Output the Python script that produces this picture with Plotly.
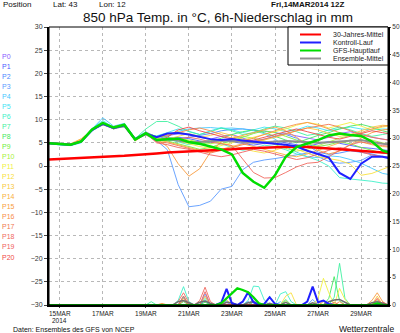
import pandas as pd
import plotly.graph_objects as go

# ---------------- data ----------------
t_temp = pd.date_range("2014-03-14 12:00", periods=33, freq="12h")
t_prec = pd.date_range("2014-03-14 12:00", periods=65, freq="6h")

member_names = ["P%d" % i for i in range(21)]
member_colors = ["#8a5cff", "#4a5cff", "#4a86ff", "#5a9aff", "#46c8ff", "#40e4f4", "#40f0c8",
                 "#40f0a0", "#44e860", "#70ee40", "#a8f040", "#f0f040", "#f8e040", "#f8c840",
                 "#f8b040", "#f89c40", "#f88c48", "#f07850", "#f06a60", "#f06060", "#f04848"]

P0 = [4.9, 4.7, 4.5, 5.2, 7.6, 9.0, 8.0, 8.6, 5.9, 6.8, 5.8, 6.5, 7.0, 6.8, 6.2, 5.8, 6.4, 6.8, 6.0, 5.4, 5.8, 6.4, 7.0, 6.5, 6.0, 5.6, 6.2, 7.0, 7.4, 6.8, 6.2, 5.8, 5.5]
P1 = [5.0, 4.9, 4.6, 5.4, 7.9, 9.3, 8.3, 8.9, 5.6, 7.2, 5.5, 6.0, 6.2, 5.9, 5.4, 5.0, 5.6, 5.2, 4.8, 4.5, 4.9, 5.4, 5.0, 4.6, 4.2, 4.8, 5.3, 4.9, 4.4, 4.0, 3.8, 3.5, 3.2]
P2 = [4.9, 4.8, 4.7, 5.2, 7.7, 9.4, 8.1, 8.7, 5.5, 7.1, 5.9, 5.4, 5.8, 6.1, 6.6, 7.0, 7.6, 7.9, 8.0, 7.8, 7.5, 7.2, 6.8, 6.0, 4.5, 3.0, 2.5, 2.8, 3.3, 3.0, 2.6, 2.0, 1.8]
P3 = [4.8, 4.6, 4.5, 5.1, 7.5, 9.1, 8.4, 8.9, 5.8, 7.0, 5.5, 3.5, -4.0, -8.8, -8.5, -7.6, -5.0, -4.4, -0.8, 0.8, 1.3, 1.6, 2.0, 2.4, 2.8, 2.0, 1.0, 0.6, 0.8, 1.2, 2.4, 2.1, 1.6]
P4 = [4.9, 4.5, 4.4, 5.0, 8.0, 10.4, 8.6, 9.2, 6.0, 7.4, 6.2, 6.4, 7.5, 8.0, 8.2, 8.3, 8.1, 8.2, 8.0, 7.6, 7.0, 5.8, 4.2, 3.0, 2.0, 1.8, 2.2, 2.0, 1.4, 0.6, -0.5, -1.6, -2.0]
P5 = [5.0, 4.8, 4.6, 5.5, 8.1, 9.8, 8.3, 8.5, 5.6, 6.8, 6.5, 7.2, 8.0, 7.5, 6.8, 7.6, 8.3, 7.8, 7.2, 7.8, 8.4, 8.0, 7.4, 7.8, 8.6, 8.2, 7.6, 8.0, 8.4, 8.0, 7.8, 8.0, 7.9]
P6 = [4.9, 4.9, 4.7, 5.3, 7.6, 9.0, 8.1, 8.8, 5.8, 7.3, 6.0, 5.8, 5.2, 4.6, 5.0, 5.6, 4.8, 4.0, 3.4, 3.8, 4.5, 4.2, 3.5, 2.6, 2.0, 1.2, 0.0, -2.5, -2.8, -3.0, -3.3, -3.7, -3.8]
P7 = [4.9, 4.8, 4.6, 5.4, 7.9, 9.3, 8.3, 8.7, 5.9, 8.0, 9.6, 9.6, 8.6, 7.4, 6.8, 7.4, 8.2, 7.6, 6.8, 7.2, 8.0, 8.6, 8.2, 7.4, 6.6, 7.0, 7.8, 8.4, 7.8, 7.0, 6.4, 6.8, 7.2]
P8 = [5.0, 4.9, 4.8, 5.2, 7.8, 9.1, 8.0, 8.9, 5.7, 7.1, 6.4, 6.2, 5.6, 5.0, 4.6, 5.2, 6.0, 6.8, 7.4, 7.8, 7.2, 6.4, 5.6, 5.0, 5.8, 6.6, 7.2, 8.0, 8.6, 9.0, 8.4, 7.6, 7.0]
P9 = [4.9, 4.7, 4.5, 5.3, 7.7, 9.2, 8.2, 8.8, 5.6, 6.9, 5.6, 5.4, 4.8, 4.2, 3.6, 4.0, 4.8, 5.4, 6.2, 7.0, 7.6, 7.2, 6.4, 5.6, 4.8, 4.2, 4.6, 5.2, 4.8, 4.0, 3.4, 2.8, 2.4]
P10 = [4.9, 4.8, 4.6, 5.2, 7.8, 9.0, 8.4, 8.6, 5.5, 7.0, 5.3, 5.6, 6.0, 5.6, 5.2, 4.8, 5.2, 5.8, 6.4, 6.0, 5.4, 4.6, 3.8, 3.2, 3.6, 4.4, 5.2, 6.0, 6.6, 6.2, 5.6, 5.0, 4.6]
P11 = [4.9, 4.8, 4.7, 5.6, 7.9, 9.1, 8.1, 8.9, 5.8, 6.7, 5.7, 6.0, 5.4, 4.8, 4.2, 3.8, 4.4, 5.0, 5.6, 6.2, 6.8, 7.4, 8.0, 8.8, 9.4, 9.0, 8.2, 8.8, 9.4, 8.6, 7.8, 8.4, 8.8]
P12 = [5.0, 4.8, 4.6, 5.3, 8.0, 9.3, 8.2, 8.7, 5.9, 7.2, 5.9, 5.8, 6.4, 7.0, 6.4, 5.6, 5.0, 4.4, 3.8, 3.2, 2.8, 3.4, 4.2, 3.6, 2.8, 2.0, 1.6, 1.2, 0.4, -2.0, -1.6, -0.6, 0.2]
P13 = [4.9, 4.9, 4.6, 5.8, 7.8, 9.2, 8.3, 8.8, 5.6, 7.1, 6.1, 6.8, 7.4, 6.8, 6.2, 6.6, 7.2, 6.6, 5.8, 5.2, 5.6, 6.2, 6.8, 7.6, 8.2, 7.8, 7.0, 6.4, 6.8, 7.6, 8.4, 8.8, 8.6]
P14 = [4.9, 4.8, 4.8, 5.9, 7.7, 9.0, 8.5, 8.9, 5.4, 6.9, 5.6, 5.2, 4.6, 4.0, 3.4, 3.0, 3.6, 4.2, 4.8, 4.2, 3.6, 3.0, 2.4, 2.0, 2.6, 3.4, 4.2, 5.0, 5.6, 5.2, 4.6, 4.2, 4.0]
P15 = [4.9, 4.8, 4.7, 5.5, 7.8, 9.1, 8.2, 8.6, 5.7, 7.0, 5.8, 4.2, 0.5, -2.2, -0.6, 3.0, 5.2, 6.0, 6.6, 7.2, 7.8, 8.4, 7.6, 6.2, 4.6, 3.4, 2.6, 3.2, 4.6, 6.0, 7.2, 7.8, 8.0]
P16 = [4.9, 4.7, 4.6, 5.4, 7.6, 9.3, 8.0, 8.8, 5.5, 7.3, 6.2, 6.6, 7.2, 7.8, 8.2, 7.6, 6.8, 6.0, 5.4, 6.0, 6.8, 7.6, 8.4, 9.0, 9.4, 8.8, 8.0, 7.2, 6.6, 7.2, 8.0, 8.6, 8.8]
P17 = [4.9, 4.8, 4.5, 5.2, 7.9, 9.2, 8.1, 8.7, 5.6, 7.0, 5.2, 5.0, 4.4, 3.8, 3.2, 2.8, 3.4, 4.0, 4.6, 5.2, 5.8, 6.4, 7.0, 7.6, 8.2, 8.6, 9.0, 8.4, 7.6, 6.8, 6.2, 5.8, 5.4]
P18 = [4.9, 4.9, 4.6, 5.3, 7.7, 9.0, 8.3, 8.9, 5.8, 6.8, 5.5, 5.6, 5.8, 6.2, 5.8, 5.2, 4.8, 4.4, 1.5, -1.4, -2.6, -2.5, -1.4, -0.2, 0.6, 0.8, 2.0, 3.4, 4.6, 5.2, 4.8, 4.4, 4.2]
P19 = [5.0, 4.8, 4.6, 5.2, 7.8, 9.1, 8.4, 8.8, 5.9, 7.1, 5.0, 4.6, 4.0, 3.6, 3.0, 2.4, 2.0, 2.4, 3.0, 3.6, 3.2, 2.6, 2.0, 1.4, 1.8, 2.6, 3.4, 4.0, 3.6, 3.0, 2.4, 2.0, 1.8]
P20 = [4.9, 4.8, 4.7, 5.4, 7.9, 9.2, 8.2, 8.6, 5.7, 6.9, 5.4, 6.2, 7.8, 8.4, 7.6, 7.0, 6.4, 5.8, 5.2, 5.6, 6.2, 6.8, 7.4, 8.0, 7.4, 6.8, 6.2, 5.8, 6.4, 7.0, 7.6, 7.2, 6.8]
members_temp = [P0, P1, P2, P3, P4, P5, P6, P7, P8, P9, P10, P11, P12, P13, P14, P15, P16, P17, P18, P19, P20]

clim_30y = [1.4, 1.5, 1.6, 1.7, 1.9, 2.0, 2.1, 2.2, 2.4, 2.5, 2.7, 2.9, 3.0, 3.1, 3.2, 3.4, 3.5, 3.6, 3.8, 3.9, 4.0, 4.1, 4.2, 4.2, 4.1, 4.0, 3.8, 3.6, 3.4, 3.2, 3.1, 2.9, 2.8]
control = [4.9, 4.8, 4.6, 5.3, 7.8, 9.1, 8.2, 8.8, 5.8, 7.0, 6.2, 7.0, 7.1, 6.8, 6.3, 5.8, 5.6, 5.8, 5.5, 5.2, 5.0, 4.8, 4.6, 4.2, 3.3, 2.6, 1.8, -1.5, -2.8, 0.5, 2.0, 2.0, 1.5]
gfs_main = [4.9, 4.8, 4.6, 5.3, 7.9, 9.3, 8.3, 8.9, 5.7, 7.1, 5.6, 5.8, 5.9, 5.2, 4.8, 4.2, 3.6, 2.5, -1.5, -3.4, -4.7, -2.0, 2.0, 4.1, 4.9, 5.6, 6.6, 7.0, 6.7, 6.5, 5.3, 3.3, 2.7]
ens_mean = [4.9, 4.8, 4.6, 5.3, 7.8, 9.0, 8.2, 8.6, 5.8, 6.9, 5.5, 5.8, 5.4, 5.1, 5.2, 5.4, 5.5, 5.4, 5.2, 5.0, 5.1, 5.3, 5.4, 5.3, 5.2, 5.0, 5.1, 5.3, 5.4, 5.6, 5.2, 4.8, 4.6]

# 6-hourly precipitation (index into t_prec : mm), all other steps 0
prec_members = [
    {33: 0.5},
    {29: 0.8, 37: 0.6},
    {38: 1.2},
    {25: 1.4, 29: 2.0, 33: 0.8, 49: 1.0},
    {43: 0.6},
    {41: 1.6},
    {24: 0.8, 25: 3.3, 26: 0.6, 37: 0.8, 38: 3.4, 39: 3.3, 40: 0.9, 43: 2.0, 44: 2.4, 45: 0.6},
    {19: 0.6, 25: 1.6, 29: 1.2, 44: 1.0, 53: 1.4, 54: 7.5, 55: 1.2, 61: 0.8},
    {25: 0.6, 29: 0.5, 52: 1.2, 53: 5.1, 54: 0.8},
    {38: 0.6},
    {44: 0.8},
    {50: 1.2, 51: 4.8, 52: 2.2, 54: 3.0, 55: 1.0},
    {33: 1.0, 44: 1.6, 45: 2.2, 50: 0.6},
    {61: 1.6},
    {51: 0.6},
    {21: 0.3, 25: 1.2, 29: 1.6, 60: 0.8, 61: 2.2, 62: 0.6},
    {54: 0.6, 61: 1.0},
    {25: 0.8, 53: 0.5},
    {24: 0.6, 25: 2.2, 26: 0.4, 28: 0.8, 29: 3.2, 30: 0.6},
    {25: 1.6, 29: 2.4, 61: 1.2},
    {62: 0.5},
]
prec_control = {32: 0.4, 33: 2.9, 34: 0.3, 36: 0.6, 37: 2.3, 38: 0.5, 40: 0.2, 41: 1.4, 42: 0.2, 48: 0.6, 49: 3.3, 50: 0.5, 51: 0.8, 52: 0.2}
prec_gfs = {32: 0.3, 33: 1.2, 34: 2.2, 35: 3.0, 36: 2.7, 37: 2.3, 38: 1.4, 39: 0.3, 61: 0.3}
prec_mean = {24: 0.6, 25: 0.8, 26: 0.4, 28: 0.5, 29: 0.7, 30: 0.3, 33: 0.5, 34: 0.4, 37: 0.4, 38: 0.6, 41: 0.3,
             44: 0.5, 49: 0.4, 52: 0.6, 53: 0.9, 54: 1.0, 55: 0.5, 60: 0.4, 61: 0.6, 62: 0.3}

x_ticks = ["2014-03-15", "2014-03-17", "2014-03-19", "2014-03-21", "2014-03-23", "2014-03-25", "2014-03-27", "2014-03-29"]
x_ticktext = ["15MAR", "17MAR", "19MAR", "21MAR", "23MAR", "25MAR", "27MAR", "29MAR"]
first_year = "2014"
legend_labels = ["30-Jahres-Mittel", "Kontroll-Lauf", "GFS-Hauptlauf", "Ensemble-Mittel"]
legend_colors = ["#ff0000", "#2020ff", "#00dd00", "#909090"]


def series(sparse):
    out = [0.0] * len(t_prec)
    for i, v in sparse.items():
        out[i] = v
    return out


# ---------------- figure ----------------
W, H = 400, 333
L, R, T, B = 49, 388, 27, 305


def px(x):
    return (x - L) / (R - L)


def py(y):
    return (B - y) / (B - T)


fig = go.Figure()

# precipitation (right axis)
for name, col, sp in zip(member_names, member_colors, prec_members):
    fig.add_trace(go.Scatter(x=t_prec, y=series(sp), yaxis="y2", mode="lines",
                             line=dict(color=col, width=0.9), name=name + " RR"))
fig.add_trace(go.Scatter(x=t_prec, y=series(prec_mean), yaxis="y2", mode="lines",
                         line=dict(color="#707070", width=1.5)))
fig.add_trace(go.Scatter(x=t_prec, y=series(prec_control), yaxis="y2", mode="lines",
                         line=dict(color="#2020ff", width=2)))
fig.add_trace(go.Scatter(x=t_prec, y=series(prec_gfs), yaxis="y2", mode="lines",
                         line=dict(color="#00dd00", width=2.2)))

# temperatures (left axis)
for name, col, vals in zip(member_names, member_colors, members_temp):
    fig.add_trace(go.Scatter(x=t_temp, y=vals, mode="lines", line=dict(color=col, width=0.9), name=name))
fig.add_trace(go.Scatter(x=t_temp, y=ens_mean, mode="lines", line=dict(color="#909090", width=2)))
fig.add_trace(go.Scatter(x=t_temp, y=clim_30y, mode="lines", line=dict(color="#ff0000", width=2.5)))
fig.add_trace(go.Scatter(x=t_temp, y=control, mode="lines", line=dict(color="#2020ff", width=2)))
fig.add_trace(go.Scatter(x=t_temp, y=gfs_main, mode="lines", line=dict(color="#00dd00", width=2.5)))

FONT = "Liberation Sans, Arial, sans-serif"
fig.update_layout(
    width=W, height=H, margin=dict(l=L, r=W - R, t=T, b=H - B, autoexpand=False),
    paper_bgcolor="white", plot_bgcolor="white", showlegend=False,
    font=dict(family=FONT, size=7, color="#222"),
    xaxis=dict(type="date", range=["2014-03-14 12:00", "2014-03-30 06:00"], automargin=False,
               tickvals=x_ticks, ticktext=x_ticktext, tickfont=dict(size=6.5, color="#222"),
               showgrid=True, gridcolor="#b8b8b8", griddash="dot", gridwidth=1,
               ticks="outside", ticklen=1, tickcolor="#444",
               showline=True, linecolor="black", linewidth=2, zeroline=False),
    yaxis=dict(range=[-30, 30], dtick=5, tick0=0, showgrid=True, gridcolor="#b8b8b8", griddash="dot",
               automargin=False,
               ticks="outside", ticklen=3, tickcolor="#444", tickfont=dict(size=7, color="#333"),
               showline=True, linecolor="black", linewidth=2, zeroline=False),
    yaxis2=dict(range=[0, 50], dtick=5, tick0=0, overlaying="y", side="right", showgrid=False,
                automargin=False,
                ticks="outside", ticklen=1, tickcolor="#444", tickfont=dict(size=6.5, color="#333"),
                showline=True, linecolor="black", linewidth=2, zeroline=False),
)

shapes = [dict(type="rect", xref="paper", yref="paper", x0=0, x1=1, y0=0, y1=1,
               line=dict(color="black", width=1))]
# legend box
shapes.append(dict(type="rect", xref="paper", yref="paper", x0=px(288), x1=1, y0=py(65), y1=1,
                   fillcolor="white", line=dict(color="black", width=1)))
ann = []
for i, (lab, col) in enumerate(zip(legend_labels, legend_colors)):
    yy = 34.5 + 8 * i
    shapes.append(dict(type="line", xref="paper", yref="paper", x0=px(300), x1=px(321),
                       y0=py(yy), y1=py(yy), line=dict(color=col, width=2)))
    ann.append(dict(text=lab, xref="paper", yref="paper", x=px(331), y=py(yy), xanchor="left",
                    yanchor="middle", showarrow=False, font=dict(size=7, color="#222")))

# member labels on the left
for i, (name, col) in enumerate(zip(member_names, member_colors)):
    ann.append(dict(text=name, xref="paper", yref="paper", x=px(0), y=py(56 + 10.05 * i),
                    xanchor="left", yanchor="middle", showarrow=False, font=dict(size=7, color=col)))


# header / footer texts
def txt(s, x, y, size, anchor="left", bold=False):
    ann.append(dict(text=("<b>%s</b>" % s) if bold else s, xref="paper", yref="paper", x=px(x), y=py(y),
                    xanchor=anchor, yanchor="middle", showarrow=False,
                    font=dict(size=size, color="#111", family=FONT)))


# year under the first date label
ann.append(dict(text=first_year, xref="x", yref="paper", x=x_ticks[0], y=py(320.5), xanchor="center",
                yanchor="middle", showarrow=False, font=dict(size=6.5, color="#222", family=FONT)))

txt("Position", 1, 4.5, 8)
txt("Lat: 43", 51, 4.5, 8)
txt("Lon: 12", 97, 4.5, 8)
txt("Fri,14MAR2014 12Z", 269, 4.5, 8, bold=True)
txt("850 hPa Temp. in °C, 6h-Niederschlag in mm", 218, 17.5, 13.5, anchor="center")
txt("Daten: Ensembles des GFS von NCEP", 11, 329, 7)
txt("Wetterzentrale", 396, 329, 8.5, anchor="right")

fig.update_layout(shapes=shapes, annotations=ann)
fig.write_html("out.html")
